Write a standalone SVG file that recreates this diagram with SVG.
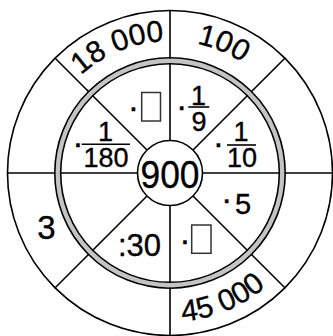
<svg xmlns="http://www.w3.org/2000/svg" width="333" height="336" viewBox="0 0 333 336">
<style>
.ln{stroke:#000;stroke-width:1.6;fill:none}
.t{font-family:"Liberation Sans",Arial,sans-serif;fill:#000;stroke:#000;stroke-width:0.35}
.o{font-size:30px}
.f{font-size:27px}
.d{font-size:34px}
.box{fill:#fff;stroke:#333;stroke-width:1.5}
</style>
<defs>
<path id="topArc" d="M 38 173 A 132 132 0 0 1 302 173"/>
<path id="botArc" d="M 21 173 A 149 149 0 0 0 319 173"/>
</defs>
<rect width="333" height="336" fill="#fff"/>
<g id="connectors">
<circle class="ln" cx="170" cy="173" r="162.5"/>
<line class="ln" x1="202.5" y1="173" x2="333" y2="173"/>
<line class="ln" x1="137.5" y1="173" x2="7" y2="173"/>
<line class="ln" x1="170" y1="205.5" x2="170" y2="336"/>
<line class="ln" x1="170" y1="140.5" x2="170" y2="10"/>
<line class="ln" x1="193" y1="150" x2="285.3" y2="57.7"/>
<line class="ln" x1="147" y1="150" x2="54.7" y2="57.7"/>
<line class="ln" x1="193" y1="196" x2="285.3" y2="288.3"/>
<line class="ln" x1="147" y1="196" x2="54.7" y2="288.3"/>
</g>
<g id="ring">
<circle cx="170" cy="173" r="112.2" fill="none" stroke="#c4c4c4" stroke-width="4.8"/>
<circle class="ln" cx="170" cy="173" r="115.2" stroke-width="1.8"/>
<circle class="ln" cx="170" cy="173" r="109.3" stroke-width="1.8"/>
</g>
<g id="center">
<circle cx="170" cy="173" r="32.5" fill="#fff" stroke="#000" stroke-width="1.6"/>
<text class="t" x="170" y="187.5" font-size="39" text-anchor="middle" textLength="59" lengthAdjust="spacingAndGlyphs">900</text>
</g>
<g id="outer-18000"><text class="t o" text-anchor="middle"><textPath href="#topArc" startOffset="37.5%">18 000</textPath></text></g>
<g id="outer-100"><text class="t o" text-anchor="middle"><textPath href="#topArc" startOffset="62.5%">100</textPath></text></g>
<g id="outer-45000"><text class="t o" text-anchor="middle"><textPath href="#botArc" startOffset="62.5%">45 000</textPath></text></g>
<g id="outer-3"><text class="t" x="46.5" y="239" font-size="33" text-anchor="middle">3</text></g>
<g id="op-box-top">
<text class="t d" x="133.3" y="117.9" text-anchor="middle">·</text>
<rect class="box" x="141.7" y="92.5" width="18.8" height="28.5"/>
</g>
<g id="op-1-9">
<text class="t d" x="181.7" y="117.2" text-anchor="middle">·</text>
<text class="t f" x="198.5" y="104.5" text-anchor="middle">1</text>
<line class="ln" x1="188.3" y1="107" x2="209.3" y2="107"/>
<text class="t f" x="199" y="130.5" text-anchor="middle">9</text>
</g>
<g id="op-1-10">
<text class="t d" x="218.5" y="154.2" text-anchor="middle">·</text>
<text class="t f" x="241" y="140.5" text-anchor="middle">1</text>
<line class="ln" x1="227" y1="145" x2="256" y2="145"/>
<text class="t f" x="242" y="167" text-anchor="middle">10</text>
</g>
<g id="op-1-180">
<text class="t d" x="77.8" y="154.2" text-anchor="middle">·</text>
<text class="t f" x="105.5" y="140.5" text-anchor="middle">1</text>
<line class="ln" x1="81.7" y1="144.3" x2="130" y2="144.3"/>
<text class="t f" x="106" y="167" text-anchor="middle">180</text>
</g>
<g id="op-5">
<text class="t d" x="226.7" y="209.8" text-anchor="middle">·</text>
<text class="t" x="243" y="214" font-size="29" text-anchor="middle">5</text>
</g>
<g id="op-30">
<text class="t" x="139.5" y="255.5" font-size="31" text-anchor="middle">:30</text>
</g>
<g id="op-box-bottom">
<text class="t d" x="185" y="251.2" text-anchor="middle">·</text>
<rect class="box" x="191.7" y="225" width="19.3" height="28.3"/>
</g>
</svg>
